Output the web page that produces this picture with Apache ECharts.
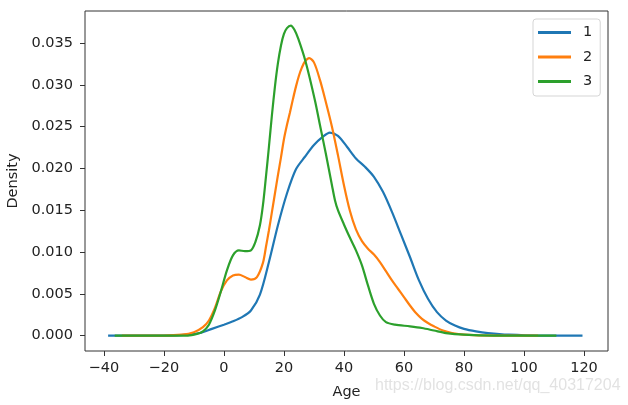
<!DOCTYPE html>
<html>
<head>
<meta charset="utf-8">
<script src="https://cdn.jsdelivr.net/npm/echarts@6/dist/echarts.min.js"></script>
<style>
html,body{margin:0;padding:0;background:#fff;}
#c{width:628px;height:405px;}
</style>
</head>
<body>
<div id="c"></div>
<script>
var seriesNames = ['1', '2', '3'];
var colors = ['#1f77b4', '#ff7f0e', '#2ca02c'];
var xTicks = [-40, -20, 0, 20, 40, 60, 80, 100, 120];
var yTicks = [0, 0.005, 0.010, 0.015, 0.020, 0.025, 0.030, 0.035];

var class1 = [[-38.6,0],[-20,0],[-12,0.0001],[-8,0.0003],[-4,0.0008],[0,0.0013],[3,0.0017],[6,0.0022],[9,0.003],[12,0.0049],[15,0.0088],[18,0.0132],[21,0.017],[24,0.0199],[27,0.0214],[30,0.0228],[33,0.0238],[35.3,0.0243],[38,0.0239],[41,0.0226],[44,0.0212],[47,0.0202],[50,0.019],[53,0.0172],[56,0.0148],[59,0.0121],[62,0.0094],[65,0.0066],[68,0.0044],[71,0.0028],[74,0.0018],[77,0.0012],[80,0.0008],[84,0.0005],[88,0.0003],[95,0.0001],[105,0],[119.5,0]];
var class2 = [[-34,0],[-20,0],[-14,0.0001],[-10,0.0004],[-7,0.001],[-5,0.0018],[-3,0.0033],[-1,0.0053],[1,0.0066],[3,0.0072],[5,0.0073],[7,0.007],[9,0.0067],[11,0.007],[13,0.0087],[14,0.0106],[15,0.0126],[16,0.0148],[17,0.017],[18,0.0192],[19,0.0213],[20,0.0235],[21,0.0252],[22,0.0267],[23,0.0283],[24,0.0298],[25,0.0311],[26,0.0321],[27,0.0328],[28.4,0.0332],[30,0.0327],[32,0.0306],[34,0.0279],[36,0.0250],[38,0.0216],[40,0.0180],[42,0.0149],[44,0.0127],[46,0.0113],[48,0.0104],[50,0.0097],[52,0.0088],[54,0.0077],[56,0.0066],[58,0.0056],[60,0.0046],[62,0.0036],[64,0.0027],[66,0.002],[68,0.0015],[70,0.0011],[73,0.0006],[76,0.0003],[80,0.0001],[90,0],[104.7,0]];
var class3 = [[-36.4,0],[-20,0],[-12,0],[-9,0.0002],[-7,0.0005],[-5,0.0013],[-3,0.003],[-1,0.0053],[1,0.0078],[3,0.0096],[5,0.0102],[7,0.0101],[9,0.0102],[10.5,0.0112],[12,0.0132],[13,0.0156],[14,0.019],[15,0.0226],[16,0.0264],[17,0.0298],[18,0.0326],[19,0.0347],[20,0.0361],[21,0.0368],[22.3,0.0371],[23.5,0.0366],[24.8,0.0355],[27.2,0.0328],[30.3,0.0282],[32,0.0252],[34,0.0217],[36,0.0180],[37,0.0162],[38,0.0150],[40,0.0133],[42,0.0117],[44,0.0102],[46,0.0084],[48,0.006],[50,0.0038],[52,0.0024],[54,0.0016],[57,0.0013],[62,0.0011],[66,0.0009],[70,0.0006],[74,0.0003],[80,0.0001],[90,0],[110.8,0]];

var dataSets = [class1, class2, class3];
var font = 'DejaVu Sans';
var textColor = '#222';

function fmtX(v){ return (v < 0 ? '\u2212' + Math.abs(v) : String(v)); }

var chart = echarts.init(document.getElementById('c'), null, {renderer: 'canvas'});
chart.setOption({
  animation: false,
  backgroundColor: '#fff',
  grid: {left: 85, right: 20, top: 11, bottom: 54, show: true, borderColor: '#333', borderWidth: 1, backgroundColor: 'transparent', containLabel: false, outerBoundsMode: 'none'},
  xAxis: {
    type: 'value', min: -46.3, max: 128,
    name: 'Age', nameLocation: 'middle', nameGap: 34,
    nameTextStyle: {fontFamily: font, fontSize: 14.5, color: textColor},
    axisLine: {show: false, onZero: false},
    splitLine: {show: false},
    axisTick: {show: true, inside: false, length: 5, lineStyle: {color: '#333'}, customValues: xTicks},
    axisLabel: {margin: 10, fontFamily: font, fontSize: 14.5, color: textColor, customValues: xTicks, formatter: fmtX}
  },
  yAxis: {
    type: 'value', min: -0.00185, max: 0.03885,
    name: 'Density', nameLocation: 'middle', nameGap: 63,
    nameTextStyle: {fontFamily: font, fontSize: 14.5, color: textColor},
    axisLine: {show: false, onZero: false},
    splitLine: {show: false},
    axisTick: {show: true, inside: false, length: 5, lineStyle: {color: '#333'}, customValues: yTicks},
    axisLabel: {margin: 12, fontFamily: font, fontSize: 14.5, color: textColor, customValues: yTicks, formatter: function(v){ return v.toFixed(3); }}
  },
  legend: {
    orient: 'vertical', left: 533, top: 19,
    padding: [6, 8, 7, 5],
    itemWidth: 33, itemHeight: 3, itemGap: 9.5,
    icon: 'rect',
    borderColor: '#d5d5d5', borderWidth: 1, borderRadius: 3,
    backgroundColor: 'rgba(255,255,255,0.8)',
    textStyle: {fontFamily: font, fontSize: 14.5, color: textColor, padding: [0, 0, 0, 7]},
    data: seriesNames
  },
  graphic: [{
    type: 'text', left: 375, top: 378,
    style: {text: 'https://blog.csdn.net/qq_40317204', fill: 'rgba(190,190,190,0.45)', font: '16px "Liberation Sans", Arial, sans-serif'}
  }],
  series: seriesNames.map(function(n, i){
    return {
      name: n, type: 'line', data: dataSets[i], smooth: 0.3, showSymbol: false,
      lineStyle: {color: colors[i], width: 2.2}, itemStyle: {color: colors[i]}
    };
  })
});
</script>
</body>
</html>
